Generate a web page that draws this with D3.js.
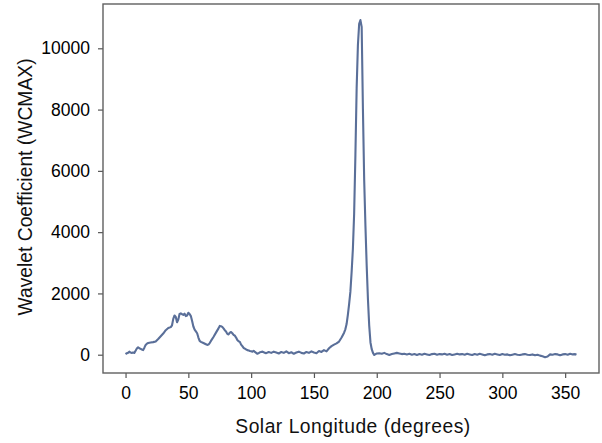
<!DOCTYPE html>
<html>
<head>
<meta charset="utf-8">
<script src="https://cdn.jsdelivr.net/npm/d3@7"></script>
<style>
  html, body { margin: 0; padding: 0; background: #fff; }
  svg { display: block; font-family: "Liberation Sans", Arial, Helvetica, sans-serif; }
</style>
</head>
<body>
<svg id="chart" width="602" height="443"></svg>
<script>
// Solar longitude (degrees) of each sample
const longitude = [
  0,1,2,3,4,5,6,7,8,9,10,11,12,13,14,15,16,17,18,19,20,22,24,26,28,30,32,34,36,37,38,39,40,
  41,42,43,44,45,46,47,48,49,50,51,52,53,54,55,56,57,58,59,60,62,64,65,66,67,68,70,72,74,75,
  76,77,78,79,80,81,82,83,84,85,86,87,88,89,90,91,92,93,94,95,96,97,98,99,100,101,102,103,104,
  105,106,107,108,109,110,111,112,114,116,118,120,122,124,126,128,130,132,134,136,138,140,142,
  144,146,148,150,152,154,156,158,160,162,164,166,168,170,172,174,175,176,177,178,179,180,181,
  182,183,184,185,186,187,188,189,190,191,192,193,194,195,196,197,198,199,200,202,204,206,208,
  210,212,214,216,218,220,222,224,226,228,230,232,234,236,238,240,242,244,246,248,250,252,254,
  256,258,260,262,264,266,268,270,272,274,276,278,280,282,284,286,288,290,292,294,296,298,300,
  302,304,306,308,310,312,314,316,318,320,322,324,326,328,330,332,334,336,338,340,342,344,346,
  348,350,352,354,356,358,359
];

// Maximum wavelet coefficient at each longitude
const wcmax = [
  20,50,60,100,70,60,70,60,130,200,240,210,190,170,150,230,320,360,380,390,400,410,430,510,600,690,800,870,900,960,1170,1280,1230,
  1060,1150,1330,1350,1320,1300,1340,1260,1280,1370,1330,1260,1100,920,820,760,700,560,450,420,380,340,320,330,380,450,580,720,860,940,
  930,910,860,800,760,680,660,720,740,700,650,620,560,480,440,420,330,280,220,200,170,150,140,120,110,100,130,90,60,
  30,50,80,90,100,80,60,50,90,60,100,70,40,90,60,110,50,80,30,70,100,60,40,
  90,60,110,70,50,120,90,150,110,210,280,330,370,430,560,720,830,1000,1300,1650,2050,2700,3450,
  4600,6500,8700,10100,10800,10920,10700,8000,5700,4200,2900,1800,950,400,180,60,-10,20,40,50,30,60,20,
  -10,20,40,60,40,20,30,10,30,0,20,-10,20,0,30,10,-10,20,30,0,20,10,30,
  0,20,-10,10,30,10,20,0,30,10,-10,20,0,30,10,-20,10,20,0,30,10,-10,20,
  0,10,-20,0,20,0,-10,10,20,0,-10,10,-20,0,-30,-50,-80,-60,10,0,20,10,-20,
  10,20,0,30,10,20,0
];

const xTicks = [0, 50, 100, 150, 200, 250, 300, 350];
const yTicks = [0, 2000, 4000, 6000, 8000, 10000];

const data = longitude.map((d, i) => ({ lon: d, val: wcmax[i] }));

const svg = d3.select("#chart");
const plot = { left: 103, top: 4, right: 599, bottom: 373 };

const x = d3.scaleLinear().domain([-17.95, 376.95]).range([plot.left, plot.right]);
const y = d3.scaleLinear().domain([-597, 11446]).range([plot.bottom, plot.top]);

// Axes
const xAxis = svg.append("g")
  .attr("transform", `translate(0,${plot.bottom})`)
  .call(d3.axisBottom(x).tickValues(xTicks).tickSize(5).tickPadding(9).tickFormat(d3.format("d")));
const yAxis = svg.append("g")
  .attr("transform", `translate(${plot.left},0)`)
  .call(d3.axisLeft(y).tickValues(yTicks).tickSize(5).tickPadding(8).tickFormat(d3.format("d")));

[xAxis, yAxis].forEach(g => {
  g.select(".domain").remove();
  g.selectAll(".tick line").attr("stroke", "#555").attr("stroke-width", 1.2);
  g.selectAll(".tick text").attr("fill", "#000").style("font-size", "17.5px");
});

// Series line
svg.append("path")
  .datum(data)
  .attr("fill", "none")
  .attr("stroke", "#5a6f99")
  .attr("stroke-width", 2.1)
  .attr("stroke-linejoin", "round")
  .attr("d", d3.line().x(d => x(d.lon)).y(d => y(d.val)));

// Frame around the plotting area
svg.append("rect")
  .attr("x", plot.left).attr("y", plot.top)
  .attr("width", plot.right - plot.left).attr("height", plot.bottom - plot.top)
  .attr("fill", "none").attr("stroke", "#606060").attr("stroke-width", 1.4);

// Axis titles
svg.append("text")
  .attr("x", 353).attr("y", 433)
  .attr("text-anchor", "middle").style("font-size", "19.3px").style("letter-spacing", "0.5px")
  .attr("fill", "#111")
  .text("Solar Longitude (degrees)");

svg.append("text")
  .attr("transform", "translate(31.5,187) rotate(-90)")
  .attr("text-anchor", "middle").style("font-size", "19.3px").attr("fill", "#111")
  .text("Wavelet Coefficient (WCMAX)");
</script>
</body>
</html>
